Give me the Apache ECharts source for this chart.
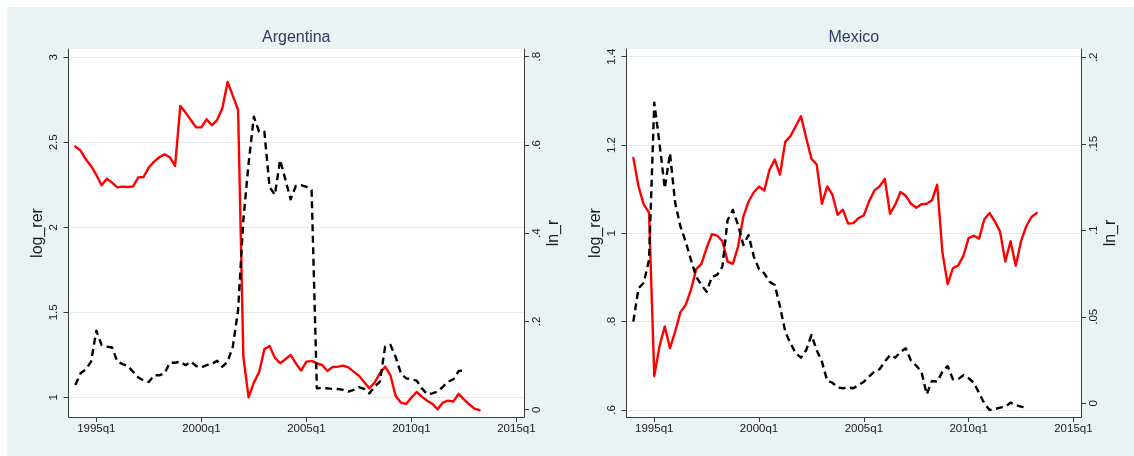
<!DOCTYPE html>
<html>
<head>
<meta charset="utf-8">
<script src="https://cdn.jsdelivr.net/npm/echarts@6/dist/echarts.min.js"></script>
<style>
  html, body { margin: 0; padding: 0; background: #ffffff; }
  #chart { width: 1134px; height: 456px; }
</style>
</head>
<body>
<div id="chart"></div>
<script>
// Quarterly series, first observation 1994q1
const startPeriod = '1994q1';
const panelTitles = ['Argentina', 'Mexico'];
const leftAxisName = 'log_rer';
const rightAxisName = 'ln_r';
const xTickLabels = ['1995q1', '2000q1', '2005q1', '2010q1', '2015q1'];

// Argentina: log real exchange rate (1994q1 - 2013q2)
const argLogRer = [
  2.475, 2.451, 2.400, 2.361, 2.308, 2.247, 2.286, 2.263, 2.235, 2.239,
  2.237, 2.241, 2.294, 2.296, 2.353, 2.386, 2.412, 2.429, 2.412, 2.361,
  2.714, 2.675, 2.631, 2.588, 2.588, 2.635, 2.600, 2.631, 2.700, 2.855,
  2.773, 2.690, 1.239, 1.000, 1.086, 1.147, 1.282, 1.302, 1.233, 1.200,
  1.224, 1.249, 1.200, 1.157, 1.210, 1.214, 1.200, 1.190, 1.155, 1.178,
  1.180, 1.186, 1.176, 1.151, 1.127, 1.090, 1.053, 1.086, 1.141, 1.180,
  1.131, 1.008, 0.969, 0.961, 0.998, 1.031, 1.004, 0.980, 0.961, 0.929,
  0.969, 0.980, 0.975, 1.020, 0.988, 0.959, 0.933, 0.924
];
// Argentina: ln_r (1994q1 - 2012q3)
const argLnR = [
  0.056, 0.0825, 0.0915, 0.109, 0.179, 0.147, 0.143, 0.141, 0.109, 0.1035,
  0.099, 0.086, 0.073, 0.066, 0.063, 0.078, 0.078, 0.0825, 0.1065, 0.1065,
  0.109, 0.101, 0.109, 0.099, 0.096, 0.101, 0.1035, 0.111, 0.0975, 0.109,
  0.143, 0.226, 0.430, 0.558, 0.664, 0.630, 0.630, 0.505, 0.487, 0.566,
  0.522, 0.477, 0.507, 0.509, 0.505, 0.498, 0.0485, 0.049, 0.0485, 0.047,
  0.047, 0.045, 0.041, 0.045, 0.051, 0.047, 0.037, 0.052, 0.0635, 0.143,
  0.147, 0.120, 0.0825, 0.071, 0.069, 0.066, 0.0485, 0.0355, 0.037, 0.041,
  0.052, 0.0635, 0.069, 0.0877, 0.0885
];
// Mexico: log real exchange rate (1994q1 - 2013q2)
const mexLogRer = [
  1.171, 1.106, 1.065, 1.047, 0.677, 0.744, 0.789, 0.740, 0.778, 0.8215,
  0.838, 0.872, 0.919, 0.931, 0.967, 0.998, 0.995, 0.982, 0.936, 0.931,
  0.970, 1.038, 1.072, 1.093, 1.106, 1.097, 1.144, 1.167, 1.133, 1.207,
  1.220, 1.2425, 1.265, 1.216, 1.169, 1.156, 1.067, 1.106, 1.0875, 1.042,
  1.0535, 1.022, 1.023, 1.0346, 1.0407, 1.0724, 1.0966, 1.1064, 1.123, 1.0444,
  1.065, 1.0936, 1.085, 1.067, 1.058, 1.066, 1.067, 1.0747, 1.110, 0.957,
  0.885, 0.921, 0.927, 0.949, 0.989, 0.9946, 0.988, 1.032, 1.046, 1.027,
  1.004, 0.936, 0.982, 0.9265, 0.982, 1.016, 1.037, 1.046
];
// Mexico: ln_r (1994q1 - 2012q4)
const mexLnR = [
  0.0472, 0.0665, 0.0697, 0.0829, 0.1738, 0.1503, 0.1243, 0.1445, 0.1156, 0.1021,
  0.0934, 0.0829, 0.0732, 0.0684, 0.0645, 0.0732, 0.0742, 0.0790, 0.1060, 0.1118,
  0.1031, 0.0915, 0.0973, 0.0848, 0.0775, 0.0751, 0.0703, 0.0684, 0.0559, 0.0414,
  0.0347, 0.0289, 0.0264, 0.0308, 0.0395, 0.0308, 0.0241, 0.0131, 0.0119, 0.0092,
  0.0087, 0.0092, 0.0087, 0.0106, 0.0125, 0.0154, 0.0183, 0.0197, 0.0241, 0.0279,
  0.0264, 0.0297, 0.0318, 0.0247, 0.0218, 0.0183, 0.0052, 0.0129, 0.0125, 0.0183,
  0.0216, 0.0139, 0.0139, 0.0162, 0.0145, 0.0119, 0.0058, 0.0000, -0.0039, -0.0033,
  -0.0025, -0.0019, 0.0004, -0.0010, -0.0019, -0.0025
];

// Axis tick values
const argLeftTicks = [1, 1.5, 2, 2.5, 3];
const argRightTicks = [0, 0.2, 0.4, 0.6, 0.8];
const mexLeftTicks = [0.6, 0.8, 1, 1.2, 1.4];
const mexRightTicks = [0, 0.05, 0.1, 0.15, 0.2];

// --- helpers -------------------------------------------------------------
// quarterly date index: 1960q1 = 0
function parseQuarter(s) {
  const m = /^(\d{4})q([1-4])$/.exec(s);
  return (Number(m[1]) - 1960) * 4 + Number(m[2]) - 1;
}
function formatQuarter(v) {
  const t = Math.round(v);
  return (1960 + Math.floor(t / 4)) + 'q' + ((t % 4) + 1);
}
// labels without a leading zero: .2, .05, 1.2
function shortNum(v) {
  const s = String(Math.round(v * 1000) / 1000);
  return s.replace(/^0\./, '.').replace(/^-0\./, '-.');
}
function toPairs(values) {
  const t0 = parseQuarter(startPeriod);
  return values.map((v, i) => [t0 + i, v]);
}

const xTicks = xTickLabels.map(parseQuarter);

const FONT = '"Liberation Sans", Arial, Helvetica, sans-serif';
const AXIS_COLOR = '#3a3a3a';
const LABEL_COLOR = '#1a1a1a';
const GRID_LINE = '#e3ecee';
const BG = '#eaf2f3';

const panels = [
  { left: 68.5, width: 455.5, yl: [0.884, 3.049], yr: [-0.0165, 0.8175],
    lt: argLeftTicks, rt: argRightTicks, a: argLogRer, b: argLnR },
  { left: 626.5, width: 454.5, yl: [0.5841, 1.4174], yr: [-0.0079, 0.2048],
    lt: mexLeftTicks, rt: mexRightTicks, a: mexLogRer, b: mexLnR }
];
const TOP = 49, HEIGHT = 368;

const grid = [], xAxis = [], yAxis = [], series = [], graphic = [];

graphic.push({
  type: 'rect', z: -10, silent: true,
  shape: { x: 7, y: 7, width: 1127, height: 449 },
  style: { fill: BG }
});

panels.forEach((p, i) => {
  grid.push({
    left: p.left, top: TOP, width: p.width, height: HEIGHT,
    show: true, backgroundColor: '#ffffff', borderWidth: 0
  });
  xAxis.push({
    type: 'value', gridIndex: i, min: 134.7, max: 221.45,
    axisLine: { show: true, onZero: false, lineStyle: { color: AXIS_COLOR, width: 1 } },
    axisTick: { show: true, customValues: xTicks, length: 5, lineStyle: { color: AXIS_COLOR } },
    axisLabel: { customValues: xTicks, formatter: formatQuarter, fontSize: 11.5,
                 fontFamily: FONT, color: LABEL_COLOR, margin: 6 },
    splitLine: { show: false }
  });
  yAxis.push({
    type: 'value', gridIndex: i, position: 'left', min: p.yl[0], max: p.yl[1],
    name: leftAxisName, nameLocation: 'middle', nameGap: 23, nameRotate: 90,
    nameTextStyle: { fontSize: 16, fontFamily: FONT, color: LABEL_COLOR },
    axisLine: { show: true, onZero: false, lineStyle: { color: AXIS_COLOR, width: 1 } },
    axisTick: { show: true, customValues: p.lt, length: 5, lineStyle: { color: AXIS_COLOR } },
    axisLabel: { customValues: p.lt, formatter: shortNum, rotate: 90, fontSize: 11.5,
                 fontFamily: FONT, color: LABEL_COLOR, margin: 9 },
    splitLine: { show: true, lineStyle: { color: GRID_LINE, width: 1 } }
  });
  yAxis.push({
    type: 'value', gridIndex: i, position: 'right', min: p.yr[0], max: p.yr[1],
    name: rightAxisName, nameLocation: 'middle', nameGap: 22, nameRotate: 90,
    nameTextStyle: { fontSize: 16, fontFamily: FONT, color: LABEL_COLOR },
    axisLine: { show: true, onZero: false, lineStyle: { color: AXIS_COLOR, width: 1 } },
    axisTick: { show: true, customValues: p.rt, length: 5, lineStyle: { color: AXIS_COLOR } },
    axisLabel: { customValues: p.rt, formatter: shortNum, rotate: 90, fontSize: 11.5,
                 fontFamily: FONT, color: LABEL_COLOR, margin: 7 },
    splitLine: { show: false }
  });
  series.push({
    type: 'line', name: leftAxisName, xAxisIndex: i, yAxisIndex: 2 * i,
    data: toPairs(p.a), showSymbol: false, symbol: 'none', z: 2,
    lineStyle: { color: '#ff0000', width: 2.4, join: 'round', cap: 'round' }
  });
  series.push({
    type: 'line', name: rightAxisName, xAxisIndex: i, yAxisIndex: 2 * i + 1,
    data: toPairs(p.b), showSymbol: false, symbol: 'none', z: 3,
    lineStyle: { color: '#000000', width: 2.4, type: [7, 4.5], cap: 'butt', join: 'round' }
  });
  graphic.push({
    type: 'text', silent: true,
    x: p.left + p.width / 2, y: 38,
    style: { text: panelTitles[i], fill: '#2a3c66', font: '16px ' + FONT,
             textAlign: 'center', textVerticalAlign: 'middle' }
  });
});

const chart = echarts.init(document.getElementById('chart'), null, { renderer: 'canvas' });
chart.setOption({
  animation: false,
  backgroundColor: '#ffffff',
  grid, xAxis, yAxis, series, graphic,
  tooltip: { show: false }
});
</script>
</body>
</html>
